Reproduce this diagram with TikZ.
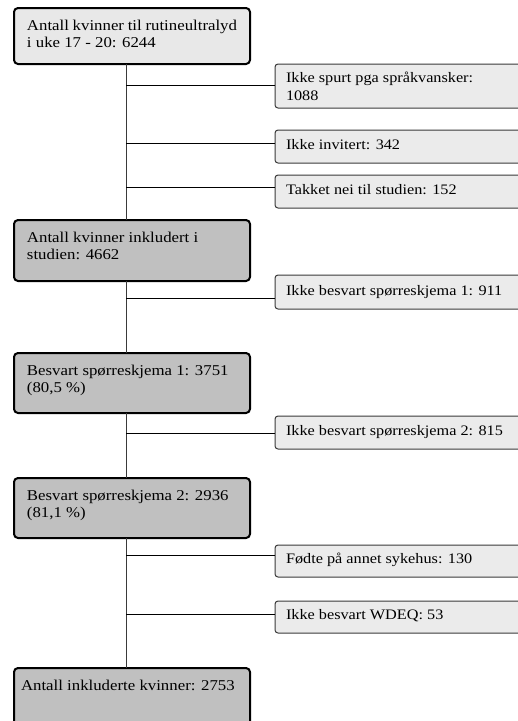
\documentclass[tikz,border=0pt]{standalone}
\usepackage{fontspec}
\setmainfont[FakeStretch=1.12]{Liberation Serif}
\definecolor{lightbox}{HTML}{E8E8E8}
\definecolor{darkbox}{HTML}{C0C0C0}
\definecolor{sidebox}{HTML}{EBEBEB}
\definecolor{linec}{HTML}{3A3A3A}
\newcommand{\topbox}[3]{\parbox[t][#1][t]{#2}{#3}}
\tikzset{
  mainbox/.style={draw=black, line width=2pt, rounded corners=4pt, anchor=north west,
    inner xsep=13pt, inner ysep=12pt, outer sep=0pt, font=\fontsize{15}{17.5}\selectfont},
  lightfill/.style={fill=lightbox},
  darkfill/.style={fill=darkbox},
  sidenode/.style={draw=linec, line width=1pt, rounded corners=3pt, fill=sidebox, anchor=north west,
    inner xsep=11pt, inner ysep=0pt, outer sep=0pt, font=\fontsize{14.5}{18}\selectfont},
  trunk/.style={draw=linec, line width=1pt},
  branch/.style={draw=black, line width=0.9pt}
}
\begin{document}
\begin{tikzpicture}[x=1pt,y=-1pt]
\useasboundingbox (0,0) rectangle (518,721);
\clip (0,0) rectangle (518,721);
% main boxes
\node[mainbox,lightfill] (A) at (14,8) {\topbox{32pt}{210pt}{Antall kvinner til rutineultralyd\\ i uke 17 - 20: 6244}};
\node[mainbox,darkfill] (B) at (14,220) {\topbox{37pt}{210pt}{Antall kvinner inkludert i\\ studien: 4662}};
\node[mainbox,darkfill] (C) at (14,353) {\topbox{36pt}{210pt}{Besvart spørreskjema 1: 3751\\ (80,5 \%)}};
\node[mainbox,darkfill] (D) at (14,478) {\topbox{36pt}{210pt}{Besvart spørreskjema 2: 2936\\ (81,1 \%)}};
\node[mainbox,darkfill,inner xsep=7pt] (E) at (14,668) {\topbox{44pt}{222pt}{Antall inkluderte kvinner: 2753}};
% side boxes
\node[sidenode,minimum height=44pt] (S1) at (275,64) {\topbox{40pt}{240pt}{\vspace{6pt}Ikke spurt pga språkvansker:\\ 1088}};
\node[sidenode,minimum height=33pt] (S2) at (275,130) {\topbox{30pt}{240pt}{\vspace{8pt}Ikke invitert: 342}};
\node[sidenode,minimum height=33pt] (S3) at (275,175) {\topbox{30pt}{240pt}{\vspace{8pt}Takket nei til studien: 152}};
\node[sidenode,minimum height=34pt] (S4) at (275,275) {\topbox{30pt}{240pt}{\vspace{8pt}Ikke besvart spørreskjema 1: 911}};
\node[sidenode,minimum height=33pt] (S5) at (275,416) {\topbox{30pt}{240pt}{\vspace{8pt}Ikke besvart spørreskjema 2: 815}};
\node[sidenode,minimum height=32pt] (S6) at (275,545) {\topbox{30pt}{240pt}{\vspace{7pt}Fødte på annet sykehus: 130}};
\node[sidenode,minimum height=32pt] (S7) at (275,601) {\topbox{30pt}{240pt}{\vspace{7pt}Ikke besvart WDEQ: 53}};
% trunk coordinates
\coordinate (t1) at (126,85);
\coordinate (t2) at (126,143);
\coordinate (t3) at (126,187);
\coordinate (t4) at (126,298);
\coordinate (t5) at (126,433);
\coordinate (t6) at (126,555);
\coordinate (t7) at (126,614);
% trunk
\draw[trunk] (A.south west -| t1) -- (B.north west -| t1);
\draw[trunk] (B.south west -| t1) -- (C.north west -| t1);
\draw[trunk] (C.south west -| t1) -- (D.north west -| t1);
\draw[trunk] (D.south west -| t1) -- (E.north west -| t1);
% branches
\draw[branch] (t1) -- (t1 -| S1.west);
\draw[branch] (t2) -- (t2 -| S2.west);
\draw[branch] (t3) -- (t3 -| S3.west);
\draw[branch] (t4) -- (t4 -| S4.west);
\draw[branch] (t5) -- (t5 -| S5.west);
\draw[branch] (t6) -- (t6 -| S6.west);
\draw[branch] (t7) -- (t7 -| S7.west);
\end{tikzpicture}
\end{document}
